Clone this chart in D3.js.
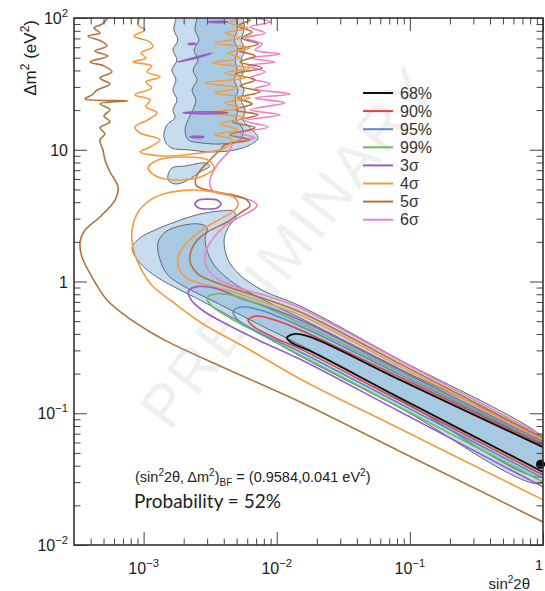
<!DOCTYPE html>
<html><head><meta charset="utf-8">
<script src="https://cdn.jsdelivr.net/npm/d3@7"></script>
<style>body{margin:0;background:#fff}svg{display:block}</style>
</head><body><svg id="c" width="545" height="591"></svg>
<script>
// ---------------- data (sin^2 2theta, delta m^2 [eV^2]) ----------------
const sinRange = [3e-4, 1];
const dmRange = [1e-2, 1e2];
const xTickValues = [1e-3, 1e-2, 1e-1, 1];
const xTickLabels = [["10","−3"],["10","−2"],["10","−1"],["1",""]];
const yTickValues = [1e-2, 1e-1, 1, 10, 100];
const yTickLabels = [["10","−2"],["10","−1"],["1",""],["10",""],["10","2"]];
const legendLabels = ["68%","90%","95%","99%","3σ","4σ","5σ","6σ"];
const legendColors = ["#111111","#e5403a","#5a8bcc","#6cbd5c","#9a5bc5","#f59b3d","#b3733f","#ef80c8"];
const bestFit = [0.9584, 0.041];

// shaded regions
const fillLightTop = [[1.75e-3,100],[1.69e-3,81.1],[1.81e-3,68.0],[1.66e-3,57.2],[1.78e-3,48.0],[1.63e-3,40.3],[1.75e-3,33.9],[1.66e-3,28.4],[1.78e-3,23.9],[1.66e-3,20.1],[1.72e-3,17.5],[1.5e-3,15.5],[1.42e-3,13.0],[1.47e-3,11.3],[1.63e-3,10.3],[2.23e-3,9.96],[3.15e-3,9.62],[4.86e-3,9.96],[6.3e-3,10.9],[7.24e-3,12.3],[6.3e-3,14.7],[5.59e-3,16.9],[5.78e-3,20.1],[5.4e-3,23.9],[5.68e-3,28.4],[5.3e-3,33.9],[5.68e-3,40.3],[5.4e-3,48.0],[5.78e-3,57.2],[5.4e-3,68.0],[5.68e-3,81.1],[5.49e-3,100],[3.5e-3,110],[1.75e-3,110]];
const fillDarkTop = [[2.52e-3,100],[2.43e-3,81.1],[2.6e-3,68.0],[2.39e-3,57.2],[2.56e-3,48.0],[2.35e-3,40.3],[2.52e-3,33.9],[2.31e-3,28.4],[2.47e-3,23.9],[2.35e-3,20.1],[2.16e-3,16.9],[2.05e-3,14.2],[2.16e-3,11.9],[2.65e-3,11.3],[4.09e-3,11.1],[5.3e-3,11.9],[5.59e-3,14.2],[4.95e-3,16.9],[5.12e-3,20.1],[4.86e-3,23.9],[5.12e-3,28.4],[4.78e-3,33.9],[5.04e-3,40.3],[4.86e-3,48.0],[5.12e-3,57.2],[4.78e-3,68.0],[5.04e-3,81.1],[4.86e-3,100],[3.5e-3,110],[2.52e-3,110]];
const fillLightBlob = [[1.52e-3,6.32],[1.63e-3,7.27],[2.05e-3,7.53],[2.89e-3,7.94],[3.15e-3,7.53],[2.65e-3,6.78],[2.16e-3,5.89],[1.75e-3,5.49],[1.55e-3,5.79]];
const fillLightBand = [[8.19e-4,1.80],[9.4e-4,2.14],[1.22e-3,2.46],[1.72e-3,2.83],[2.65e-3,3.25],[3.75e-3,3.43],[4.7e-3,3.43],[4.95e-3,3.14],[4.31e-3,2.55],[4.02e-3,2.07],[4.31e-3,1.46],[5.3e-3,1.12],[7.76e-3,0.861],[0.015,0.652],[0.0844,0.2541],[1,0.066],[1.2,0.05],[1,0.0295],[0.0844,0.1096],[0.015,0.271],[4.7e-3,0.528],[2.65e-3,0.724],[1.88e-3,0.861],[1.26e-3,1.08],[9.4e-4,1.38]];
const fillDarkBand = [[1.28e-3,1.96],[1.45e-3,2.37],[1.88e-3,2.64],[2.65e-3,2.73],[3.0e-3,2.55],[2.89e-3,2.07],[3.26e-3,1.41],[4.62e-3,0.991],[7.49e-3,0.75],[0.015,0.528],[0.0844,0.2168],[1,0.0605],[1.2,0.045],[1,0.0328],[0.0844,0.1276],[0.015,0.330],[7.49e-3,0.468],[3.44e-3,0.699],[2.05e-3,0.91],[1.52e-3,1.12],[1.33e-3,1.46]];

// confidence contours
const contour68 = [[1,0.0554],[0.0844,0.179],[0.0178,0.380],[0.0137,0.400],[0.0119,0.373],[0.0130,0.342],[0.0178,0.297],[0.0844,0.1305],[1,0.0358]];
const contour90 = [[1,0.0574],[0.0844,0.1875],[0.015,0.429],[9.7e-3,0.510],[6.99e-3,0.547],[6.09e-3,0.510],[6.76e-3,0.452],[9.7e-3,0.373],[0.015,0.308],[0.0844,0.1243],[1,0.034]];
const contour95 = [[1,0.0584],[0.0844,0.1965],[0.015,0.460],[7.49e-3,0.608],[5.3e-3,0.640],[4.7e-3,0.587],[5.12e-3,0.510],[7.49e-3,0.407],[0.015,0.292],[0.0844,0.1179],[1,0.0322]];
const contour99 = [[1,0.0594],[0.0844,0.2042],[0.015,0.484],[7.49e-3,0.663],[4.86e-3,0.777],[3.44e-3,0.804],[3.0e-3,0.750],[3.26e-3,0.652],[4.46e-3,0.528],[7.49e-3,0.400],[0.015,0.276],[0.0844,0.1109],[1,0.0301]];
const contour3s = [[1,0.0605],[0.0844,0.2122],[0.015,0.510],[8.9e-3,0.629],[5.3e-3,0.750],[3.44e-3,0.89],[2.43e-3,0.91],[2.16e-3,0.832],[2.31e-3,0.712],[2.89e-3,0.587],[4.46e-3,0.460],[7.49e-3,0.354],[0.015,0.257],[0.0844,0.1027],[1,0.0276]];
const islands3s = [
  [[2.43e-3,3.87],[2.60e-3,4.15],[3.05e-3,4.22],[3.56e-3,4.15],[3.81e-3,3.87],[3.56e-3,3.61],[3.05e-3,3.55],[2.60e-3,3.61]],
  [[1.81e-3,46.4],[2.43e-3,50.1],[3.26e-3,54.3],[2.43e-3,49.3]],
  [[1.98e-3,19.1],[2.89e-3,19.4],[4.31e-3,19.1],[2.89e-3,18.7]],
  [[2.23e-3,12.5],[2.52e-3,12.7],[2.84e-3,12.5],[2.52e-3,12.3]],
  [[2.16e-3,63.5],[2.31e-3,64.2],[2.47e-3,63.8],[2.31e-3,62.9]],
  [[3.05e-3,93.2],[3.62e-3,94.6],[4.31e-3,93.2],[3.62e-3,92.2]]
];
const contour4sMain = [[1,0.0627],[0.0844,0.2268],[0.015,0.557],[7.49e-3,0.712],[4.46e-3,0.847],[2.65e-3,0.97],[2.05e-3,1.08],[1.81e-3,1.34],[1.88e-3,1.68],[2.23e-3,2.07],[2.89e-3,2.55],[3.88e-3,3.03],[4.86e-3,3.49],[5.12e-3,3.94],[4.62e-3,4.45],[3.44e-3,4.77],[2.23e-3,4.94],[1.50e-3,4.69],[1.12e-3,4.15],[9.09e-4,3.37],[8.19e-4,2.46],[8.33e-4,1.80],[9.4e-4,1.29],[1.15e-3,0.94],[1.58e-3,0.724],[2.65e-3,0.493],[6.3e-3,0.302],[0.015,0.182],[0.0844,0.0762],[1,0.022]];
const contour4sTop = [[9.4e-4,100],[9.09e-4,88.5],[1.025e-3,81.1],[8.47e-4,72.9],[1.12e-3,65.7],[1.17e-3,60.2],[9.57e-4,54.3],[1.04e-3,49.7],[8.33e-4,46.4],[1.15e-3,43.3],[1.06e-3,39.0],[1.33e-3,35.7],[1.04e-3,32.7],[1.15e-3,29.5],[8.62e-4,26.1],[1.12e-3,23.9],[1.04e-3,21.2],[1.26e-3,19.1],[1.08e-3,16.9],[8.62e-4,14.9],[9.4e-4,13.4],[1.33e-3,11.9],[1.12e-3,10.5],[9.4e-4,9.62],[1.45e-3,8.96],[2.65e-3,9.45],[4.09e-3,10.3],[4.62e-3,11.9],[3.44e-3,13.0],[5.12e-3,14.2],[3.75e-3,15.7],[5.78e-3,17.5],[3.15e-3,19.1],[5.3e-3,20.8],[4.09e-3,22.7],[6.3e-3,24.7],[3.44e-3,27.0],[5.12e-3,29.5],[2.89e-3,32.2],[5.78e-3,35.1],[4.09e-3,38.3],[6.3e-3,41.8],[3.26e-3,45.6],[5.3e-3,49.7],[4.31e-3,54.3],[6.3e-3,59.2],[3.44e-3,64.6],[5.3e-3,70.4],[4.09e-3,76.9],[6.09e-3,84.0],[4.46e-3,91.6],[5.3e-3,100]];
const contour4sLoop = [[1.08e-3,7.27],[1.28e-3,8.36],[2.05e-3,8.81],[3.05e-3,8.36],[3.38e-3,7.27],[2.79e-3,6.32],[1.88e-3,5.89],[1.28e-3,6.21]];
const contour5sLeft = [[5.4e-4,100],[4.87e-4,90.0],[4.24e-4,84.0],[4.7e-4,76.9],[3.82e-4,72.9],[4.78e-4,66.9],[5.31e-4,61.3],[4.31e-4,56.2],[5.4e-4,51.5],[3.96e-4,46.4],[5.04e-4,43.3],[5.78e-4,39.0],[4.7e-4,35.1],[5.59e-4,31.6],[4.47e-4,28.4],[4.1e-4,26.1],[3.63e-4,24.3],[7.65e-4,23.5],[4.7e-4,22.3],[5.59e-4,20.1],[5.04e-4,18.1],[5.59e-4,16.3],[4.7e-4,14.7],[5.13e-4,13.2],[4.7e-4,11.9],[4.95e-4,9.96],[5.13e-4,8.36],[5.59e-4,6.78],[6.43e-4,5.21],[6.1e-4,4.15],[4.7e-4,3.09],[3.63e-4,2.46],[3.33e-4,2.00],[3.44e-4,1.54],[4.1e-4,1.08],[5.31e-4,0.724],[7.51e-4,0.538],[1.12e-3,0.414],[1.58e-3,0.342],[3.75e-3,0.228],[0.015,0.1218],[0.0844,0.0513],[1,0.01495]];
const contour5sRight = [[5.78e-3,100],[6.3e-3,96.6],[5.12e-3,87.0],[6.53e-3,78.3],[5.49e-3,70.4],[7.24e-3,63.5],[5.04e-3,57.2],[6.87e-3,51.5],[5.3e-3,46.4],[7.76e-3,41.8],[4.86e-3,37.6],[6.87e-3,33.9],[5.3e-3,30.5],[7.49e-3,27.5],[5.12e-3,24.7],[6.53e-3,22.3],[4.86e-3,20.1],[7.24e-3,18.4],[4.62e-3,16.3],[6.87e-3,14.7],[4.46e-3,13.0],[6.3e-3,11.9],[4.09e-3,10.9],[3.75e-3,9.96],[3.15e-3,8.36],[2.52e-3,6.43],[2.47e-3,5.40],[3.0e-3,4.94],[4.7e-3,4.53],[5.99e-3,4.15],[6.3e-3,3.74],[5.59e-3,3.43],[4.24e-3,2.83],[3.0e-3,2.37],[2.47e-3,2.00],[2.23e-3,1.59],[2.27e-3,1.34],[2.56e-3,1.14],[3.75e-3,0.957],[6.3e-3,0.804],[0.015,0.587],[0.0844,0.2369],[1,0.0649]];
const contour6sRight = [[6.87e-3,100],[8.9e-3,93.2],[6.3e-3,85.5],[8.17e-3,76.9],[5.78e-3,70.4],[7.76e-3,63.5],[6.87e-3,57.2],[1.06e-2,53.3],[6.3e-3,49.7],[9.7e-3,46.4],[6.09e-3,43.3],[8.17e-3,39.0],[6.3e-3,35.1],[8.9e-3,31.6],[6.87e-3,29.0],[1.26e-2,26.5],[6.87e-3,24.7],[1.15e-2,22.7],[6.3e-3,20.1],[1.06e-2,18.4],[5.78e-3,16.6],[8.61e-3,14.9],[5.3e-3,13.4],[6.87e-3,12.3],[4.7e-3,11.3],[4.46e-3,9.96],[3.56e-3,7.66],[3.15e-3,5.89],[3.26e-3,4.94],[4.24e-3,4.53],[6.3e-3,4.15],[7.12e-3,3.80],[6.64e-3,3.49],[5.59e-3,3.19],[4.09e-3,2.64],[3.26e-3,2.07],[2.89e-3,1.59],[3.0e-3,1.266],[3.62e-3,1.045],[5.3e-3,0.89],[8.9e-3,0.763],[0.015,0.629],[0.0844,0.2506],[1,0.0672]];

// ---------------- drawing ----------------
const svg = d3.select("#c");
const x = d3.scaleLog().domain(sinRange).range([74, 543]);
const y = d3.scaleLog().domain(dmRange).range([545, 18]);
const FONT = "'Liberation Sans', Arial, Helvetica, sans-serif";

svg.append("rect").attr("width",545).attr("height",591).attr("fill","#fff");
svg.append("defs").append("clipPath").attr("id","clip").append("rect")
  .attr("x",74).attr("y",18).attr("width",469).attr("height",527);

// watermark
svg.append("text").attr("transform","translate(292,250) rotate(-52)")
  .attr("text-anchor","middle").attr("dominant-baseline","middle")
  .attr("font-family",FONT).attr("font-size",60)
  .attr("fill","#f0f0f0").attr("letter-spacing",3).text("PRELIMINARY");

const g = svg.append("g").attr("clip-path","url(#clip)");
const lineGen = d3.line().x(d=>x(d[0])).y(d=>y(d[1])).curve(d3.curveCatmullRom.alpha(0.5));
const closedGen = d3.line().x(d=>x(d[0])).y(d=>y(d[1])).curve(d3.curveCatmullRomClosed.alpha(0.5));

const lightFills = [fillLightTop, fillLightBlob, fillLightBand];
const darkFills = [fillDarkTop, fillDarkBand];
g.selectAll("path.lf").data(lightFills).join("path").attr("class","lf")
  .attr("d",closedGen).attr("fill","#c6dbee").attr("stroke","#5d6b77").attr("stroke-width",1);
g.selectAll("path.df").data(darkFills).join("path").attr("class","df")
  .attr("d",closedGen).attr("fill","#a7c9e2").attr("stroke","#5d6b77").attr("stroke-width",1);

const lineSets = [
  {data:[contour6sRight], c:7},
  {data:[contour5sLeft, contour5sRight], c:6},
  {data:[contour4sTop, contour4sMain], c:5},
  {data:[contour3s], c:4},
  {data:[contour99], c:3},
  {data:[contour95], c:2},
  {data:[contour90], c:1},
  {data:[contour68], c:0}
];
lineSets.forEach(s=>{
  s.data.forEach(d=>{
    g.append("path").attr("d",lineGen(d)).attr("fill","none")
      .attr("stroke",legendColors[s.c]).attr("stroke-width",s.c===0?1.9:1.6).attr("stroke-linejoin","round");
  });
});
g.append("path").attr("d",closedGen(contour4sLoop)).attr("fill","none")
  .attr("stroke",legendColors[5]).attr("stroke-width",1.6);
islands3s.forEach(d=>{
  g.append("path").attr("d",closedGen(d)).attr("fill","none")
    .attr("stroke",legendColors[4]).attr("stroke-width",1.6);
});

// best fit point
svg.append("circle").attr("cx",x(bestFit[0])).attr("cy",y(bestFit[1])).attr("r",4.5).attr("fill","#000");

// axes ticks
const xMinor=[], yMinor=[];
for(let e=-4;e<0;e++) for(let k=2;k<10;k++){const v=k*Math.pow(10,e); if(v>sinRange[0]*1.001&&v<1) xMinor.push(v);}
for(let e=-2;e<2;e++) for(let k=2;k<10;k++) yMinor.push(k*Math.pow(10,e));
function tickAxis(axis, vals, size, tr){
  const a = svg.append("g").attr("transform",tr)
    .call(axis.tickValues(vals).tickSize(size).tickFormat(""));
  a.select(".domain").remove();
  a.selectAll("line").attr("stroke","#444").attr("stroke-width",1);
}
tickAxis(d3.axisBottom(x), xTickValues, -13, "translate(0,545)");
tickAxis(d3.axisBottom(x), xMinor, -6.5, "translate(0,545)");
tickAxis(d3.axisTop(x), xTickValues, -13, "translate(0,18)");
tickAxis(d3.axisTop(x), xMinor, -6.5, "translate(0,18)");
tickAxis(d3.axisLeft(y), yTickValues, -13, "translate(74,0)");
tickAxis(d3.axisLeft(y), yMinor, -6.5, "translate(74,0)");
tickAxis(d3.axisRight(y), yTickValues, -13, "translate(543,0)");
tickAxis(d3.axisRight(y), yMinor, -6.5, "translate(543,0)");

svg.append("rect").attr("x",74).attr("y",18).attr("width",469).attr("height",527)
  .attr("fill","none").attr("stroke","#333").attr("stroke-width",1.6);

// tick labels
function supLabel(sel, base, sup, size){
  sel.append("tspan").text(base);
  if(sup) sel.append("tspan").attr("dy",-7).attr("font-size",size*0.7).text(sup);
}
xTickValues.forEach((v,i)=>{
  const last = i===xTickValues.length-1;
  const t = svg.append("text").attr("x",last?x(v)-4:x(v)).attr("y",last?570:574).attr("text-anchor","middle")
    .attr("font-family",FONT).attr("font-size",last?15:16).attr("fill","#222");
  supLabel(t, xTickLabels[i][0], xTickLabels[i][1], 16);
});
yTickValues.forEach((v,i)=>{
  const t = svg.append("text").attr("x",68).attr("y",y(v)+6).attr("text-anchor","end")
    .attr("font-family",FONT).attr("font-size",16).attr("fill","#222");
  supLabel(t, yTickLabels[i][0], yTickLabels[i][1], 16);
});

// axis titles
const yt = svg.append("text").attr("transform","translate(36,20) rotate(-90)").attr("text-anchor","end")
  .attr("font-family",FONT).attr("font-size",17).attr("fill","#222");
yt.append("tspan").text("Δm");
yt.append("tspan").attr("dy",-7).attr("font-size",12).text("2");
yt.append("tspan").attr("dy",7).text(" (eV");
yt.append("tspan").attr("dy",-7).attr("font-size",12).text("2");
yt.append("tspan").attr("dy",7).text(")");

const xt = svg.append("text").attr("x",530).attr("y",589).attr("text-anchor","end")
  .attr("font-family",FONT).attr("font-size",15).attr("fill","#222");
xt.append("tspan").text("sin");
xt.append("tspan").attr("dy",-6).attr("font-size",10).text("2");
xt.append("tspan").attr("dy",6).text("2θ");

// legend
legendLabels.forEach((lab,i)=>{
  const yy = 93 + i*18.1;
  svg.append("line").attr("x1",363).attr("x2",393).attr("y1",yy).attr("y2",yy)
    .attr("stroke",legendColors[i]).attr("stroke-width",2);
  svg.append("text").attr("x",400).attr("y",yy+5.5).attr("font-family",FONT)
    .attr("font-size",16).attr("fill","#333").text(lab);
});

// annotations
const an = svg.append("text").attr("x",135).attr("y",482).attr("font-family",FONT)
  .attr("font-size",14.5).attr("fill","#222");
an.append("tspan").text("(sin");
an.append("tspan").attr("dy",-6).attr("font-size",10).text("2");
an.append("tspan").attr("dy",6).text("2θ, Δm");
an.append("tspan").attr("dy",-6).attr("font-size",10).text("2");
an.append("tspan").attr("dy",6).text(")");
an.append("tspan").attr("dy",4).attr("font-size",10).text("BF");
an.append("tspan").attr("dy",-4).text(" = (0.9584,0.041 eV");
an.append("tspan").attr("dy",-6).attr("font-size",10).text("2");
an.append("tspan").attr("dy",6).text(")");

svg.append("text").attr("x",134).attr("y",508).attr("font-family","Lato, 'Open Sans', sans-serif")
  .attr("font-size",19).attr("fill","#222").text("Probability = 52%");
</script></body></html>
